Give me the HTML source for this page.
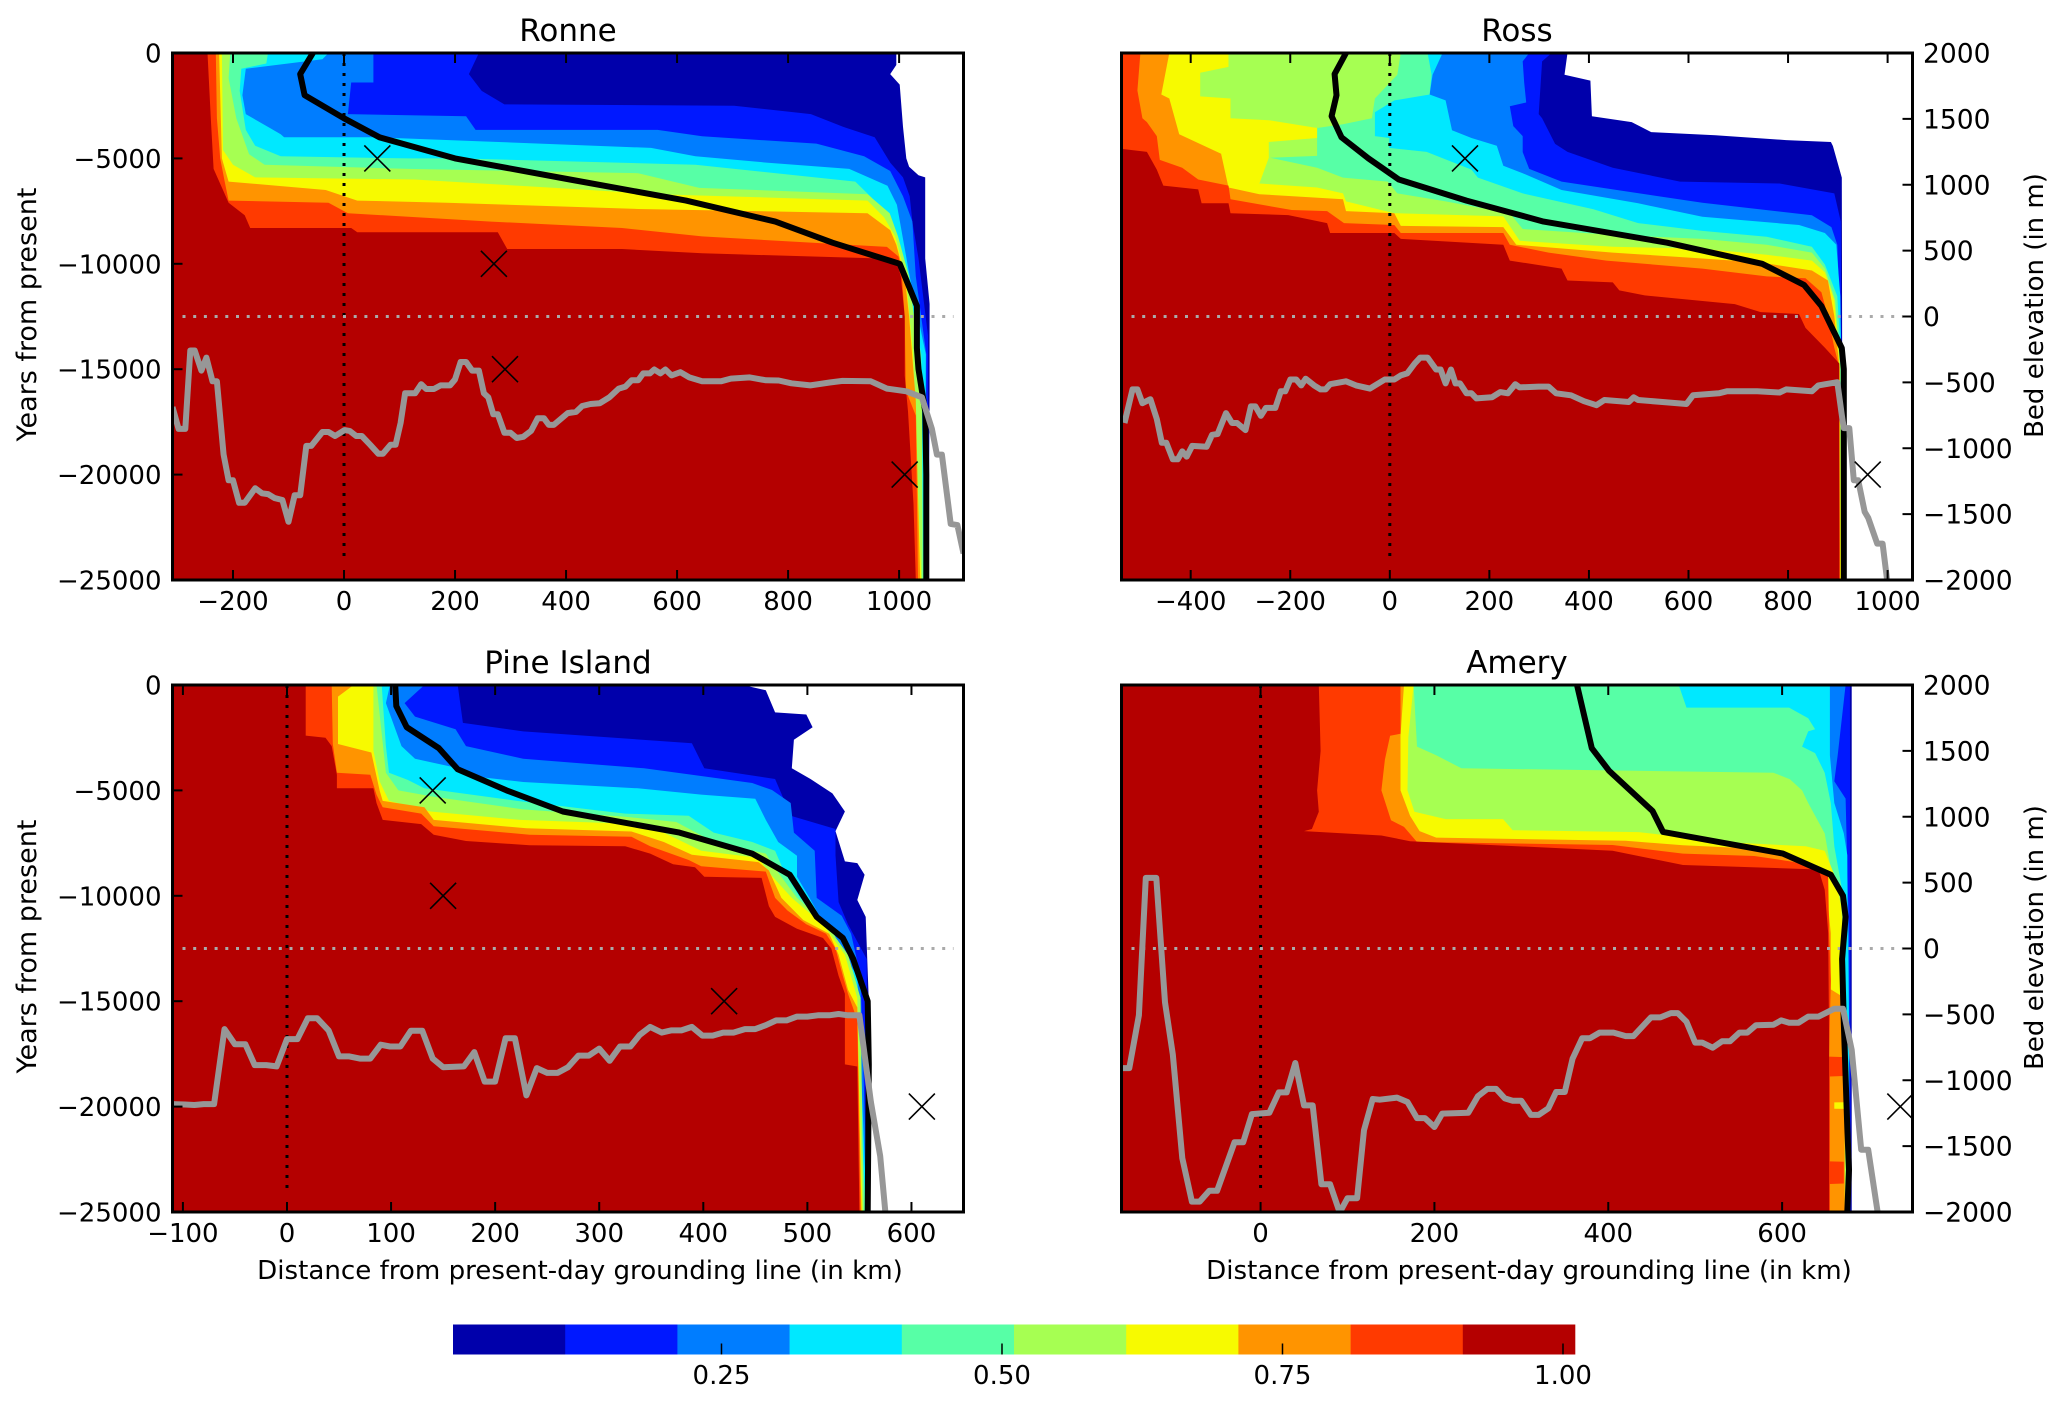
<!DOCTYPE html>
<html>
<head>
<meta charset="utf-8">
<title>Grounding line retreat chart</title>
<style>
html,body{margin:0;padding:0;background:#fff;width:2067px;height:1403px;overflow:hidden}
svg{display:block}
text{font-family:"DejaVu Sans","Liberation Sans",sans-serif;fill:#000}
</style>
</head>
<body>
<svg id="chart" xmlns="http://www.w3.org/2000/svg" width="2067" height="1403" viewBox="0 0 2067 1403"></svg>
<script>
// Contour band colours, lowest level to highest
const levelColors = ['#0000ab','#0018ff','#007dff','#00e8ff','#57ffa6','#a6ff52','#f7fa00','#ff9400','#ff3a00','#b40000'];
const colorbarLevels = [0.0107,0.1107,0.2107,0.3107,0.4107,0.5107,0.6107,0.7107,0.8107,0.9107,1.0107];
const colorbarTicks = [0.25,0.5,0.75,1.0];
const colorbarTickLabels = ['0.25','0.50','0.75','1.00'];

const yearTicks = [0,-5000,-10000,-15000,-20000,-25000];
const elevationTicks = [2000,1500,1000,500,0,-500,-1000,-1500,-2000];

// ---- Ronne ---- each level: [km, years] from surface to bottom; filled toward the left
const ronneLevels = [
[[995,0],[995,-570],[984,-1000],[1001,-1500],[1007,-3500],[1013,-5000],[1018,-5400],[1035,-5800],[1047,-5900],[1047,-9750],[1055,-11900],[1055,-16200],[1053,-25000]],
[[243,0],[225,-1000],[248,-1800],[289,-2440],[703,-2500],[841,-2900],[899,-3500],[956,-4000],[984,-5200],[1007,-5900],[1019,-6800],[1024,-8000],[1035,-9750],[1052,-13400],[1052,-25000]],
[[53,0],[53,-1400],[13,-1400],[7,-2900],[220,-3000],[237,-3650],[565,-3650],[645,-3950],[851,-4300],[937,-4900],[984,-5600],[1007,-6800],[1024,-8000],[1030,-10600],[1049,-14300],[1048,-25000]],
[[-28,0],[-39,-300],[-177,-750],[-183,-2000],[-177,-2900],[-114,-3850],[-108,-4000],[59,-4000],[254,-4200],[553,-4500],[633,-4900],[761,-5200],[910,-5500],[979,-6300],[996,-7200],[1019,-10600],[1048,-14300],[1046,-25000]],
[[-137,0],[-140,-500],[-185,-750],[-188,-1800],[-177,-3650],[-160,-4400],[-114,-4900],[116,-5000],[208,-5000],[633,-5300],[921,-6100],[950,-6850],[984,-7950],[1007,-9650],[1040,-14300],[1044,-25000]],
[[-205,0],[-208,-1200],[-194,-3100],[-171,-4800],[-143,-5300],[116,-5500],[530,-5700],[640,-6400],[943,-6700],[983,-7600],[998,-8700],[1018,-10600],[1035,-14300],[1041,-16200],[1042,-25000]],
[[-220,0],[-218,-4600],[-200,-5300],[-160,-5900],[127,-6000],[380,-6400],[564,-6700],[943,-7000],[973,-7800],[993,-8700],[1012,-10600],[1025,-14300],[1040,-25000]],
[[-225,0],[-220,-5000],[-208,-6100],[-33,-6500],[24,-7000],[185,-7100],[530,-7400],[943,-7600],[984,-8400],[995,-9100],[1010,-10600],[1018,-12500],[1030,-16500],[1034,-21000],[1038,-25000]],
[[-231,0],[-229,-3100],[-223,-5000],[-215,-6100],[-208,-7000],[-28,-7100],[7,-7600],[265,-8000],[501,-8300],[645,-8700],[909,-9100],[978,-9200],[999,-9660],[1005,-10600],[1010,-12500],[1012,-16000],[1030,-17200],[1032,-21000],[1034,-25000]],
[[-246,0],[-240,-3100],[-235,-5500],[-208,-7100],[-179,-7700],[-169,-8300],[13,-8300],[24,-8500],[277,-8500],[294,-9300],[501,-9300],[645,-9500],[967,-9750],[995,-9850],[1003,-10600],[1010,-12500],[1010,-15300],[1016,-17000],[1026,-21400],[1030,-25000]]
];
const ronneGroundingLine = [[-56,0],[-79,-1000],[-71,-2000],[0,-3100],[64,-4000],[200,-5000],[407,-6000],[616,-7000],[777,-8000],[880,-9000],[1001,-10000],[1032,-12000],[1032,-14000],[1035,-15000],[1047,-17000],[1049,-20000],[1049,-25000]];
const ronneBed = [[-309,-688],[-298,-853],[-286,-853],[-277,-258],[-269,-258],[-257,-411],[-248,-312],[-237,-492],[-229,-492],[-217,-1048],[-208,-1243],[-200,-1243],[-189,-1414],[-179,-1414],[-160,-1303],[-148,-1342],[-137,-1348],[-125,-1378],[-111,-1393],[-100,-1558],[-89,-1357],[-79,-1357],[-68,-982],[-59,-982],[-39,-877],[-28,-877],[-16,-907],[1,-862],[10,-868],[22,-907],[32,-907],[47,-973],[62,-1042],[70,-1042],[84,-973],[93,-973],[102,-808],[110,-583],[128,-583],[139,-514],[148,-550],[162,-550],[174,-523],[191,-523],[200,-478],[210,-345],[220,-345],[231,-411],[243,-411],[252,-583],[260,-613],[269,-742],[277,-742],[289,-883],[300,-883],[311,-922],[323,-913],[337,-868],[349,-772],[360,-772],[369,-823],[378,-823],[403,-733],[418,-724],[429,-679],[444,-664],[461,-658],[478,-613],[495,-547],[507,-532],[518,-484],[530,-484],[539,-432],[551,-432],[559,-402],[570,-432],[579,-402],[590,-447],[606,-423],[622,-462],[645,-492],[679,-492],[697,-471],[731,-462],[760,-484],[783,-486],[806,-507],[840,-523],[875,-501],[898,-489],[949,-492],[978,-547],[1013,-568],[1041,-613],[1059,-853],[1068,-1048],[1077,-1048],[1093,-1574],[1105,-1583],[1116,-1799]];
const ronneMarkers = [[60,-5000],[270,-10000],[290,-15000],[1010,-20000]];
const ronneXTicks = [-200,0,200,400,600,800,1000];

// ---- Ross ----
const rossLevels = [
[[357,0],[351,-1030],[403,-1310],[406,-3000],[486,-3280],[525,-3750],[654,-3900],[796,-4130],[886,-4220],[890,-4410],[908,-5910],[909.5,-25000]],
[[325,0],[306,-400],[299,-2900],[306,-3100],[332,-4310],[357,-4690],[448,-5440],[583,-6100],[783,-6190],[893,-6660],[906,-8000],[909,-25000]],
[[280,0],[267,-400],[270,-1410],[274,-2350],[241,-2530],[248,-3470],[267,-3940],[267,-4700],[280,-5500],[345,-6100],[448,-6470],[628,-7100],[848,-7700],[887,-8260],[899,-9100],[907,-14000],[908.5,-25000]],
[[106,0],[86,-1030],[80,-1970],[112,-2250],[125,-3660],[164,-4030],[215,-4400],[228,-5350],[267,-5700],[345,-6500],[499,-7130],[628,-7770],[822,-8160],[874,-8540],[897,-9100],[905,-11540],[907,-14900],[908,-25000]],
[[76,0],[84,-1030],[80,-1970],[9,-2250],[-30,-2810],[-30,-3940],[-1,-4030],[-1,-4500],[74,-4690],[164,-5530],[177,-5910],[267,-6660],[409,-7410],[499,-8070],[628,-8440],[757,-8720],[848,-9190],[874,-10040],[899,-11540],[906,-14350],[907.5,-25000]],
[[22,0],[15,-1030],[-30,-2160],[-36,-3100],[-94,-3380],[-146,-3560],[-146,-4880],[-240,-4970],[-146,-5440],[-94,-5910],[-4,-6100],[15,-6660],[112,-7040],[241,-7600],[267,-8350],[448,-8630],[628,-8820],[757,-9100],[848,-9470],[874,-10230],[895,-11730],[905,-14900],[907,-25000]],
[[-324,0],[-324,-660],[-381,-940],[-381,-2060],[-320,-2160],[-320,-3100],[-243,-3190],[-146,-3560],[-146,-4030],[-243,-4220],[-243,-4970],[-262,-6190],[-146,-6380],[-94,-6660],[-88,-7040],[9,-7600],[228,-7750],[261,-8910],[448,-9190],[628,-9290],[757,-9570],[848,-9850],[874,-10410],[893,-11730],[904,-14900],[906.5,-25000]],
[[-443,0],[-459,-1970],[-443,-2160],[-423,-3850],[-339,-4780],[-324,-6380],[-262,-6700],[-94,-6940],[-88,-7500],[9,-7600],[22,-8200],[228,-8260],[254,-9100],[448,-9470],[628,-9750],[745,-9940],[848,-10320],[880,-10790],[893,-12480],[903,-14900],[904.5,-25000]],
[[-501,0],[-507,-1780],[-497,-3100],[-488,-3280],[-468,-3940],[-462,-5070],[-417,-5440],[-385,-6000],[-324,-6290],[-320,-6940],[-197,-7450],[-126,-7500],[-92,-8070],[9,-8160],[22,-8540],[228,-8540],[241,-9100],[319,-9470],[435,-9850],[628,-10230],[757,-10600],[835,-10690],[867,-11350],[880,-12480],[893,-13980],[903,-14900],[904,-25000]],
[[-545,0],[-545,-4530],[-488,-4690],[-468,-5530],[-455,-6290],[-385,-6470],[-378,-7130],[-324,-7130],[-320,-7600],[-204,-7690],[-126,-8070],[-120,-8540],[9,-8540],[22,-8820],[228,-9100],[241,-9850],[345,-10230],[357,-10790],[448,-10880],[461,-11260],[512,-11500],[693,-11910],[745,-12290],[822,-12380],[835,-13040],[874,-13980],[903,-14730],[903,-25000]]
];
const rossGroundingLine = [[-88,0],[-111,-1000],[-107,-2000],[-117,-3000],[-97,-4000],[-43,-5000],[18,-6000],[154,-7000],[309,-8000],[557,-9000],[748,-10000],[832,-11000],[867,-12000],[908,-14000],[912,-15000],[912,-25000]];
const rossBed = [[-533,-808],[-517,-553],[-507,-553],[-497,-658],[-481,-628],[-468,-778],[-458,-958],[-449,-958],[-436,-1084],[-426,-1084],[-417,-1024],[-408,-1063],[-397,-982],[-368,-988],[-357,-898],[-346,-892],[-329,-733],[-317,-808],[-307,-808],[-290,-862],[-279,-682],[-270,-682],[-259,-754],[-249,-694],[-230,-694],[-219,-568],[-210,-568],[-200,-478],[-188,-478],[-178,-523],[-169,-472],[-152,-523],[-139,-553],[-129,-553],[-120,-514],[-88,-492],[-68,-523],[-40,-547],[-10,-478],[9,-478],[22,-447],[35,-432],[50,-357],[61,-312],[76,-312],[93,-402],[102,-402],[112,-508],[123,-402],[132,-508],[141,-508],[154,-583],[164,-583],[174,-622],[205,-613],[222,-574],[237,-583],[252,-514],[261,-538],[299,-532],[319,-532],[334,-583],[364,-598],[390,-643],[415,-673],[431,-634],[480,-649],[490,-613],[499,-634],[557,-652],[596,-664],[609,-598],[661,-583],[677,-568],[738,-568],[783,-577],[796,-553],[848,-568],[861,-523],[899,-499],[908,-748],[912,-847],[923,-847],[932,-1243],[941,-1243],[954,-1483],[961,-1528],[979,-1724],[990,-1724],[999,-2000]];
const rossMarkers = [[151,-5000],[960,-20000]];
const rossXTicks = [-400,-200,0,200,400,600,800,1000];

// ---- Pine Island ----
const pineLevels = [
[[438,0],[460,-250],[469,-1300],[499,-1400],[505,-2000],[487,-2600],[485,-3950],[503,-4460],[524,-5140],[536,-6000],[527,-6930],[536,-8370],[548,-8450],[555,-9000],[548,-10200],[556,-11000],[559,-15000],[559,-25000]],
[[164,0],[169,-1800],[227,-2200],[389,-2760],[401,-3950],[469,-4460],[478,-5500],[484,-6200],[527,-6830],[527,-8070],[530,-10300],[539,-11350],[557,-13000],[558.5,-25000]],
[[132,0],[113,-860],[123,-1500],[162,-2100],[172,-2900],[227,-3500],[343,-3950],[404,-4360],[447,-4650],[466,-4980],[484,-5600],[487,-7000],[507,-7860],[509,-10100],[533,-10950],[542,-11800],[551,-13800],[558,-25000]],
[[99,0],[95,-860],[110,-2900],[123,-3500],[165,-3950],[184,-4360],[227,-4600],[337,-4900],[398,-5200],[450,-5400],[460,-6400],[472,-7450],[490,-8100],[490,-9100],[502,-10100],[521,-11800],[548,-13800],[557,-25000]],
[[91,0],[95,-2900],[98,-4160],[116,-4500],[132,-4900],[221,-5500],[325,-6100],[386,-6200],[410,-7000],[447,-7450],[469,-7860],[478,-8900],[493,-10100],[521,-11350],[545,-13800],[556,-25000]],
[[86,0],[95,-4160],[107,-5000],[141,-5300],[227,-5900],[325,-6250],[374,-6500],[410,-7450],[460,-8000],[472,-8900],[490,-10100],[518,-11350],[539,-12800],[551,-14850],[554,-25000]],
[[83,0],[83,-3100],[89,-4570],[98,-5500],[138,-6000],[224,-6400],[337,-6600],[362,-7000],[398,-7860],[453,-8200],[463,-8900],[485,-10100],[515,-11350],[536,-12800],[548,-14850],[553,-25000]],
[[64,0],[49,-550],[49,-2800],[81,-3200],[89,-5000],[92,-5500],[132,-5800],[141,-6400],[230,-6800],[331,-6950],[362,-7450],[389,-8050],[453,-8400],[463,-8800],[475,-10100],[496,-11150],[521,-11800],[530,-12800],[539,-14450],[548,-15300],[552,-25000]],
[[43,0],[44,-2800],[48,-4160],[80,-4260],[86,-5200],[92,-5800],[129,-6100],[141,-6700],[233,-7100],[331,-7200],[349,-7650],[386,-8300],[398,-8600],[460,-8850],[469,-10100],[481,-10700],[499,-11350],[518,-11800],[527,-12500],[534,-13800],[539,-14650],[548,-15900],[551,-25000]],
[[18,0],[18,-2400],[37,-2500],[43,-2900],[48,-4260],[48,-4900],[83,-4900],[86,-5600],[92,-6400],[129,-6600],[141,-7100],[172,-7400],[233,-7600],[325,-7650],[349,-8000],[371,-8500],[392,-8650],[401,-9100],[456,-9150],[463,-10500],[469,-11000],[490,-11560],[515,-12000],[523,-12500],[530,-13800],[536,-14650],[536,-18000],[548,-18100],[550,-25000]]
];
const pineGroundingLine = [[104,0],[105,-1000],[115,-2000],[146,-3000],[164,-4000],[211,-5000],[265,-6000],[377,-7000],[447,-8000],[483,-9000],[509,-11000],[534,-12000],[544,-13000],[558,-15000],[559,-18000],[558,-25000]];
const pineBed = [[-110,-1181],[-98,-1184],[-89,-1188],[-80,-1181],[-70,-1181],[-60,-612],[-50,-727],[-40,-727],[-31,-885],[-20,-885],[-10,-895],[0,-688],[10,-688],[20,-530],[29,-530],[40,-622],[50,-819],[60,-819],[70,-836],[80,-836],[90,-730],[99,-744],[109,-744],[119,-625],[130,-625],[140,-836],[150,-901],[170,-895],[180,-786],[190,-1010],[200,-1010],[210,-681],[219,-681],[230,-1115],[240,-908],[250,-944],[260,-944],[270,-901],[280,-813],[290,-813],[300,-760],[310,-852],[320,-744],[330,-744],[339,-655],[349,-595],[360,-638],[369,-622],[379,-622],[389,-595],[399,-661],[409,-661],[419,-638],[429,-638],[440,-612],[450,-612],[460,-582],[470,-546],[480,-546],[490,-517],[500,-517],[510,-507],[521,-507],[530,-497],[539,-507],[550,-507],[556,-869],[561,-1165],[570,-1576],[575,-2004]];
const pineMarkers = [[140,-5000],[150,-10000],[420,-15000],[610,-20000]];
const pineXTicks = [-100,0,100,200,300,400,500,600];

// ---- Amery ----
const ameryLevels = [
[[680,0],[680,-25000]],
[[678,0],[679,-25000]],
[[673,0],[664,-3330],[660,-4570],[673,-5390],[677,-11770],[678,-25000]],
[[655,0],[655,-3330],[660,-5600],[671,-7040],[675,-8070],[675,-10120],[677,-15890],[677,-25000]],
[[481,0],[490,-1070],[608,-1070],[630,-1580],[638,-2100],[630,-2200],[623,-2920],[638,-3230],[649,-4160],[656,-5600],[660,-7650],[669,-9710],[672,-15890],[675,-25000]],
[[176,0],[180,-2920],[202,-3330],[231,-3950],[590,-4160],[609,-4470],[623,-5000],[630,-5600],[649,-7040],[656,-8680],[668,-10000],[671,-11770],[672,-16500],[673,-17120],[675,-25000]],
[[176,0],[170,-2510],[169,-5000],[177,-6010],[213,-6360],[279,-6360],[290,-6890],[435,-6980],[531,-7450],[627,-7650],[649,-7860],[660,-9000],[668,-10500],[670,-11770],[672,-14850],[672,-25000]],
[[165,0],[161,-2400],[161,-5000],[172,-6210],[183,-6930],[202,-7240],[420,-7390],[486,-7600],[568,-7760],[605,-8170],[635,-8480],[649,-8890],[656,-11770],[656,-14440],[672,-14850],[672,-19790],[660,-19800],[660,-20100],[672,-20110],[672,-25000]],
[[161,0],[161,-2310],[149,-2410],[143,-3540],[139,-5000],[150,-6420],[165,-6730],[180,-7450],[405,-7590],[486,-8000],[568,-8110],[612,-8380],[642,-8680],[653,-9100],[654,-11770],[656,-14000],[654,-17630],[671,-17650],[671,-18550],[655,-18570],[655,-22600],[671,-22620],[671,-23650],[655,-23670],[655,-25000]],
[[67,0],[69,-3130],[65,-5000],[67,-6010],[59,-6830],[50,-6930],[139,-7140],[172,-7410],[405,-7860],[486,-8540],[642,-8750],[649,-9710],[653,-11770],[654,-16910],[654,-25000]]
];
const ameryGroundingLine = [[364,0],[381,-3000],[401,-4070],[451,-5980],[463,-6970],[601,-8000],[656,-9000],[670,-10000],[673,-11000],[669,-13000],[671,-16000],[675,-21000],[677,-23000],[675,-25000]];
const ameryBed = [[-159,-908],[-151,-908],[-140,-507],[-132,536],[-120,536],[-110,-408],[-101,-803],[-90,-1592],[-79,-1921],[-70,-1921],[-59,-1839],[-50,-1839],[-30,-1471],[-20,-1471],[-10,-1257],[10,-1247],[21,-1092],[30,-1092],[40,-869],[50,-1191],[60,-1191],[70,-1790],[80,-1790],[91,-2004],[100,-1895],[111,-1895],[119,-1379],[129,-1142],[137,-1148],[157,-1132],[169,-1165],[180,-1287],[189,-1287],[200,-1355],[209,-1253],[239,-1247],[250,-1122],[261,-1066],[271,-1066],[281,-1138],[290,-1155],[300,-1155],[311,-1263],[320,-1263],[331,-1214],[340,-1089],[350,-1089],[359,-836],[370,-681],[379,-681],[390,-638],[406,-638],[420,-665],[429,-665],[449,-523],[460,-523],[472,-490],[480,-490],[490,-556],[500,-714],[508,-714],[520,-753],[531,-704],[540,-704],[551,-638],[560,-638],[570,-582],[590,-579],[599,-546],[608,-563],[619,-563],[630,-517],[642,-517],[660,-457],[670,-457],[680,-770],[691,-1527],[699,-1527],[710,-2004]];
const ameryMarkers = [[736,-20000]];
const ameryXTicks = [0,200,400,600];

const SVGNS = 'http://www.w3.org/2000/svg';
const root = document.getElementById('chart');
let clipCounter = 0;

function make(parent, tag, attrs, content) {
  const el = document.createElementNS(SVGNS, tag);
  for (const k in attrs) el.setAttribute(k, attrs[k]);
  if (content !== undefined) el.textContent = content;
  parent.appendChild(el);
  return el;
}
function fmt(v) { return String(v).replace('-', '\u2212'); }

function drawPanel(p) {
  const x = v => p.left + (v - p.xMin) / (p.xMax - p.xMin) * 791;
  const y = v => p.top + (v / -25000) * 527;
  const e = v => p.top + (2000 - v) / 4000 * 527;
  const bottom = p.top + 527, right = p.left + 791;

  const panel = make(root, 'g', {});
  
  

  const clipId = 'clip' + (clipCounter++);
  const defs = make(panel, 'defs', {});
  const cp = make(defs, 'clipPath', {id: clipId});
  make(cp, 'rect', {x: p.left, y: p.top, width: 791, height: 527});

  const plot = make(panel, 'g', {'clip-path': 'url(#' + clipId + ')'});
  
  

  p.levels.forEach((pts, i) => {
    let d = pts.map((q, j) => (j ? 'L' : 'M') + x(q[0]).toFixed(1) + ' ' + y(q[1]).toFixed(1)).join('');
    d += 'L' + (p.left - 20) + ' ' + y(-25000).toFixed(1) + 'L' + (p.left - 20) + ' ' + y(0).toFixed(1) + 'Z';
    const band = make(plot, 'path', {d: d, fill: levelColors[i]});
    
    
  });

  const zeroLine = make(plot, 'line', {x1: x(0), x2: x(0), y1: y(0), y2: y(-24100), stroke: '#000', 'stroke-width': 3, 'stroke-dasharray': '3 7'});
  
  
  const seaLine = make(plot, 'line', {x1: p.left + 10, x2: right - 10, y1: e(0), y2: e(0), stroke: '#aaa', 'stroke-width': 3, 'stroke-dasharray': '3 7.7'});
  
  

  const gl = make(plot, 'polyline', {points: p.grounding.map(q => x(q[0]).toFixed(1) + ',' + y(q[1]).toFixed(1)).join(' '), fill: 'none', stroke: '#000', 'stroke-width': 6, 'stroke-linejoin': 'round'});
  
  

  const bed = make(plot, 'polyline', {points: p.bed.map(q => x(q[0]).toFixed(1) + ',' + e(q[1]).toFixed(1)).join(' '), fill: 'none', stroke: '#979797', 'stroke-width': 6, 'stroke-linejoin': 'round'});
  
  

  p.markers.forEach(m => {
    const cx = x(m[0]), cy = y(m[1]), r = 13;
    const mark = make(plot, 'path', {d: `M${cx - r} ${cy - r}L${cx + r} ${cy + r}M${cx - r} ${cy + r}L${cx + r} ${cy - r}`, stroke: '#000', 'stroke-width': 1.6, fill: 'none'});
    
    
  });

  const frame = make(panel, 'rect', {x: p.left, y: p.top, width: 791, height: 527, fill: 'none', stroke: '#000', 'stroke-width': 3});
  
  

  p.xTicks.forEach(v => {
    const tx = x(v);
    const tick = make(panel, 'path', {d: `M${tx} ${p.top}v10M${tx} ${bottom}v-10`, stroke: '#000', 'stroke-width': 2});
    
    
    const label = make(panel, 'text', {x: tx, y: bottom + 30, 'text-anchor': 'middle', 'font-size': 26}, fmt(v));
    
    
  });

  if (p.side === 'left') {
    yearTicks.forEach(v => {
      const ty = y(v);
      const tick = make(panel, 'path', {d: `M${p.left} ${ty}h10`, stroke: '#000', 'stroke-width': 2});
      
      
      const label = make(panel, 'text', {x: p.left - 11, y: ty + 9.5, 'text-anchor': 'end', 'font-size': 26}, fmt(v));
      
      
    });
    const cy = p.top + 261.5;
    const axisTitle = make(panel, 'text', {x: 36, y: cy, transform: `rotate(-90 36 ${cy})`, 'text-anchor': 'middle', 'font-size': 27}, 'Years from present');
    
    
  } else {
    elevationTicks.forEach(v => {
      const ty = e(v);
      const tick = make(panel, 'path', {d: `M${right} ${ty}h-10`, stroke: '#000', 'stroke-width': 2});
      
      
      const label = make(panel, 'text', {x: right + 10.5, y: ty + 9.5, 'text-anchor': 'start', 'font-size': 26.5}, fmt(v));
      
      
    });
    const cy = p.top + 252.5;
    const axisTitle = make(panel, 'text', {x: 2043, y: cy, transform: `rotate(-90 2043 ${cy})`, 'text-anchor': 'middle', 'font-size': 26}, 'Bed elevation (in m)');
    
    
  }

  const title = make(panel, 'text', {x: p.left + 395.5, y: p.top - 12, 'text-anchor': 'middle', 'font-size': 31}, p.title);
  
  

  if (p.xLabel) {
    const xTitle = make(panel, 'text', {x: p.left + 407.5, y: bottom + 67, 'text-anchor': 'middle', 'font-size': 26.1}, 'Distance from present-day grounding line (in km)');
    
    
  }
}

drawPanel({slug: 'ronne', title: 'Ronne', left: 172.5, top: 53, xMin: -309, xMax: 1116, side: 'left', xLabel: false, levels: ronneLevels, grounding: ronneGroundingLine, bed: ronneBed, markers: ronneMarkers, xTicks: ronneXTicks});
drawPanel({slug: 'ross', title: 'Ross', left: 1121.5, top: 53, xMin: -539, xMax: 1050, side: 'right', xLabel: false, levels: rossLevels, grounding: rossGroundingLine, bed: rossBed, markers: rossMarkers, xTicks: rossXTicks});
drawPanel({slug: 'pine-island', title: 'Pine Island', left: 172.5, top: 685, xMin: -110, xMax: 650, side: 'left', xLabel: true, levels: pineLevels, grounding: pineGroundingLine, bed: pineBed, markers: pineMarkers, xTicks: pineXTicks});
drawPanel({slug: 'amery', title: 'Amery', left: 1121.5, top: 685, xMin: -160, xMax: 750, side: 'right', xLabel: true, levels: ameryLevels, grounding: ameryGroundingLine, bed: ameryBed, markers: ameryMarkers, xTicks: ameryXTicks});

// Colorbar
const cb = make(root, 'g', {});


const cbX = v => 453 + (v - colorbarLevels[0]) / (colorbarLevels[colorbarLevels.length - 1] - colorbarLevels[0]) * 1122;
levelColors.forEach((c, i) => {
  const seg = make(cb, 'rect', {x: cbX(colorbarLevels[i]), y: 1324.5, width: cbX(colorbarLevels[i + 1]) - cbX(colorbarLevels[i]) + 0.3, height: 30, fill: c});
  
  
});
colorbarTicks.forEach((v, i) => {
  const tick = make(cb, 'line', {x1: cbX(v), x2: cbX(v), y1: 1354.5, y2: 1343.5, stroke: '#000', 'stroke-width': 1.5});
  
  
  const label = make(cb, 'text', {x: cbX(v), y: 1384, 'text-anchor': 'middle', 'font-size': 26}, colorbarTickLabels[i]);
  
  
});
</script>
</body>
</html>
